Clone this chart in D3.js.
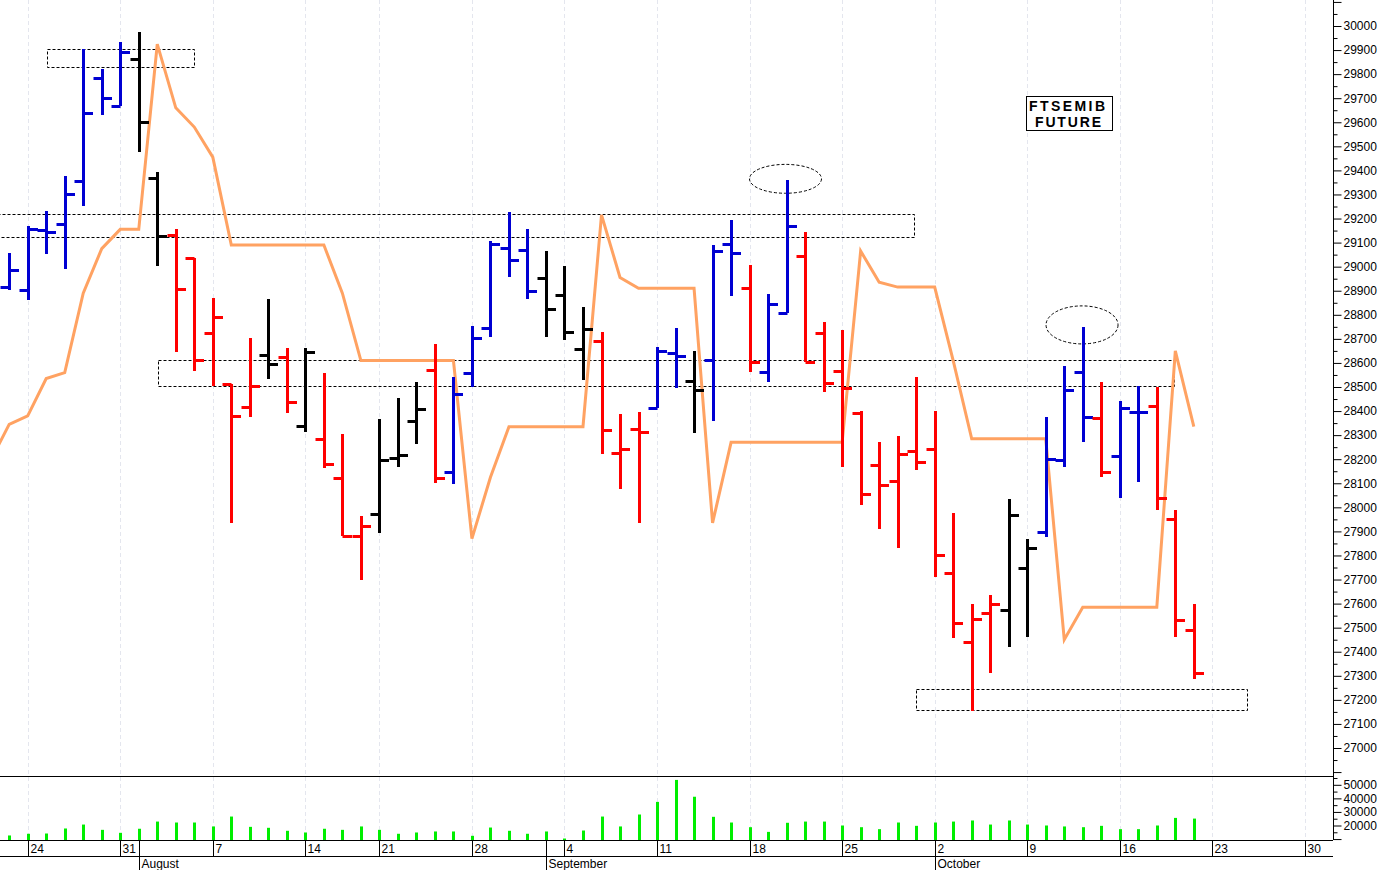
<!DOCTYPE html>
<html>
<head>
<meta charset="utf-8">
<script src="https://cdn.jsdelivr.net/npm/d3@7"></script>
<style>
  body { margin: 0; background: #fff; }
  svg { display: block; }
  text { font-family: "Liberation Sans", Arial, sans-serif; }
</style>
</head>
<body>
<svg id="chart" width="1380" height="870"></svg>
<script>
// ---------------- DATA ----------------
// trading days (2017), 15 Aug is a holiday
const days = [
  "2017-07-20","2017-07-21",
  "2017-07-24","2017-07-25","2017-07-26","2017-07-27","2017-07-28",
  "2017-07-31","2017-08-01","2017-08-02","2017-08-03","2017-08-04",
  "2017-08-07","2017-08-08","2017-08-09","2017-08-10","2017-08-11",
  "2017-08-14","2017-08-16","2017-08-17","2017-08-18",
  "2017-08-21","2017-08-22","2017-08-23","2017-08-24","2017-08-25",
  "2017-08-28","2017-08-29","2017-08-30","2017-08-31","2017-09-01",
  "2017-09-04","2017-09-05","2017-09-06","2017-09-07","2017-09-08",
  "2017-09-11","2017-09-12","2017-09-13","2017-09-14","2017-09-15",
  "2017-09-18","2017-09-19","2017-09-20","2017-09-21","2017-09-22",
  "2017-09-25","2017-09-26","2017-09-27","2017-09-28","2017-09-29",
  "2017-10-02","2017-10-03","2017-10-04","2017-10-05","2017-10-06",
  "2017-10-09","2017-10-10","2017-10-11","2017-10-12","2017-10-13",
  "2017-10-16","2017-10-17","2017-10-18","2017-10-19","2017-10-20",
  "2017-10-23","2017-10-24","2017-10-25","2017-10-26","2017-10-27",
  "2017-10-30","2017-10-31"
];

const openP = [null,
  28917, 28904, 29154, 29179, 29354, 29783, 29667, 29862, 29367, 29133,
  29037, 28725, 28512, 28417, 28633, 28625, 28337, 28283, 28121, 27879,
  27971, 28204, 28358, 28571, 28146, 28558, 28746, 29079, 29071, 28954,
  28883, 28658, 28692, 28225, 28325, 28412, 28642, 28525, 28612, 29096,
  28912, 28562, 28808, 29046, 28725, 28567, 28392, 28175, 28108, 28233,
  28242, 27729, 27442, 27562, 27575, 27750, 27896, 28196, 28562, 28371,
  28212, 28396, 28421, 27950, 27492];
const highP = [null,
  29058, 29167, 29233, 29375, 29904, 29821, 29933, 29975, 29392, 29158,
  29037, 28871, 28512, 28704, 28867, 28662, 28662, 28558, 28304, 27962,
  28367, 28454, 28521, 28679, 28542, 28754, 29108, 29229, 29158, 29067,
  29004, 28833, 28729, 28387, 28396, 28667, 28746, 28650, 29092, 29192,
  29008, 28887, 29362, 29142, 28771, 28737, 28400, 28271, 28296, 28542,
  28400, 27975, 27600, 27637, 28033, 27867, 28375, 28587, 28750, 28521,
  28442, 28504, 28500, 27987, 27600];
const lowP = [null,
  28904, 28862, 29054, 28992, 29254, 29629, 29667, 29475, 29004, 28646,
  28567, 28504, 27933, 28375, 28533, 28392, 28312, 28162, 27879, 27696,
  27892, 28167, 28262, 28100, 28096, 28500, 28708, 28958, 28867, 28708,
  28696, 28529, 28221, 28075, 27933, 28412, 28496, 28308, 28358, 28879,
  28562, 28521, 28808, 28604, 28479, 28167, 28008, 27908, 27833, 28154,
  27712, 27458, 27154, 27312, 27421, 27462, 27875, 28167, 28271, 28125,
  28037, 28104, 27987, 27462, 27287];
const closeP = [null,
  28987, 29158, 29146, 29300, 29637, 29700, 29892, 29600, 29129, 28908,
  28612, 28792, 28379, 28504, 28596, 28437, 28646, 28179, 27879, 27921,
  28196, 28217, 28408, 28121, 28471, 28704, 29096, 29029, 28900, 28825,
  28729, 28742, 28321, 28242, 28312, 28650, 28629, 28487, 29067, 29058,
  28604, 28846, 29167, 28604, 28517, 28496, 28054, 28092, 28221, 28187,
  27804, 27521, 27537, 27600, 27967, 27829, 28200, 28487, 28375, 28146,
  28412, 28396, 28037, 27533, 27312];
const volume = [null,
  12650, 13900, 14100, 17800, 20700, 16800, 14600, 17600, 22900, 22200,
  22200, 19300, 26600, 19000, 18300, 16100, 14850, 17600, 16800, 19300,
  16800, 13900, 14850, 15600, 15600, 12400, 18500, 16100, 13900, 15600,
  10400, 16300, 26600, 19300, 28100, 37400, 53600, 41200, 26400, 22200,
  18750, 15300, 22000, 22900, 22900, 20000, 18750, 17300, 22200, 19750,
  22200, 22900, 23700, 20700, 23700, 20700, 20000, 19300, 18750, 19750,
  17300, 17300, 20000, 25600, 25100];
// trend class of each bar: U = up (blue), D = down (red), N = neutral (black)
const trend = [null,
  "U","U","U","U","U","U","U","N","N","D",
  "D","D","D","D","N","D","N","D","D","D",
  "N","N","N","D","U","U","U","U","U","N",
  "N","N","D","D","D","U","U","N","U","U",
  "D","U","U","D","D","D","D","D","D","D",
  "D","D","D","D","N","N","U","U","U","D",
  "U","U","D","D","D"];
// orange stop line
const stopLine = [
  28195, 28345, 28380, 28535, 28560, 28890, 29075, 29155, 29155, 29925,
  29660, 29580, 29455, 29090, 29090, 29090, 29090, 29090, 29090, 28890,
  28610, 28610, 28610, 28610, 28610, 28610, 27870, 28125, 28335, 28335,
  28335, 28335, 28335, 29215, 28955, 28910, 28910, 28910, 28910, 27935,
  28270, 28270, 28270, 28270, 28270, 28270, 28270, 29065, 28935, 28915,
  28915, 28915, 28610, 28285, 28285, 28285, 28285, 28285, 27450, 27585,
  27585, 27585, 27585, 27585, 28650, 28335];

// axis ticks
const weekTickDays = ["2017-07-24","2017-07-31","2017-08-07","2017-08-14","2017-08-21","2017-08-28",
  "2017-09-04","2017-09-11","2017-09-18","2017-09-25","2017-10-02","2017-10-09","2017-10-16",
  "2017-10-23","2017-10-30"];
const weekTickLabels = ["24","31","7","14","21","28","4","11","18","25","2","9","16","23","30"];
const monthDays = ["2017-08-01","2017-09-01","2017-10-02"];
const monthLabels = ["August","September","October"];
const priceTicks = d3.range(27000, 30001, 100);
const volumeTicks = [20000, 30000, 40000, 50000];

// annotations (day index / price)
const zoneBoxes = [
  {i0: 3.03, i1: 10.95, p0: 29905, p1: 29830},
  {i0: -1, i1: 49.88, p0: 29220, p1: 29125},
  {i0: 9.02, i1: 63.9, p0: 28611, p1: 28502},
  {i0: 49.97, i1: 67.87, p0: 27245, p1: 27157}
];
const rings = [
  {i: 42.94, p: 29365, rx: 1.945, ry: 60},
  {i: 58.96, p: 28758, rx: 1.945, ry: 79}
];
const titleLines = ["FTSEMIB", "FUTURE"];

// ---------------- CHART ----------------
const W = 1380, H = 870;
const plotRight = 1333, priceBottom = 776, volBottom = 840, dayRow = 856;
const svg = d3.select("#chart");
svg.append("rect").attr("width", W).attr("height", H).attr("fill", "#fff");

const x = d3.scalePoint().domain(days).range([-9.32, -9.32 + 18.51 * (days.length - 1)]);
const step = x.step();
const xi = i => x(days[0]) + i * step;
const y = d3.scaleLinear().domain([27000, 30000]).range([748, 26]);
const yv = d3.scaleLinear().domain([20000, 50000]).range([825.5, 784.8]);
const color = d3.scaleOrdinal().domain(["U","D","N"]).range(["#0000d2","#ff0000","#000000"]);
const px = v => Math.round(v) + 0.5;

const defs = svg.append("defs");
defs.append("clipPath").attr("id", "clipP").append("rect")
  .attr("x", 0).attr("y", 0).attr("width", plotRight).attr("height", priceBottom);
defs.append("clipPath").attr("id", "clipV").append("rect")
  .attr("x", 0).attr("y", priceBottom).attr("width", plotRight).attr("height", volBottom - priceBottom);

// grid
svg.append("g").selectAll("line").data(weekTickDays).join("line")
  .attr("x1", d => px(x(d))).attr("x2", d => px(x(d)))
  .attr("y1", 0).attr("y2", volBottom)
  .attr("stroke", "#e4e6ee").attr("stroke-width", 1).attr("stroke-dasharray", "4,3");

const gP = svg.append("g").attr("clip-path", "url(#clipP)");

// zone boxes
gP.append("g").selectAll("rect").data(zoneBoxes).join("rect")
  .attr("x", d => px(xi(d.i0))).attr("y", d => px(y(d.p0)))
  .attr("width", d => Math.round(xi(d.i1) - xi(d.i0)))
  .attr("height", d => Math.round(y(d.p1) - y(d.p0)))
  .attr("fill", "none").attr("stroke", "#000").attr("stroke-width", 1)
  .attr("stroke-dasharray", "3,2");

gP.append("g").selectAll("ellipse").data(rings).join("ellipse")
  .attr("cx", d => xi(d.i)).attr("cy", d => y(d.p))
  .attr("rx", d => d.rx * step).attr("ry", d => y(d.p - d.ry) - y(d.p))
  .attr("fill", "none").attr("stroke", "#000").attr("stroke-width", 1)
  .attr("stroke-dasharray", "3,2");

// stop line
const line = d3.line().x((d, i) => x(days[i])).y(d => y(d));
gP.append("path").datum(stopLine).attr("d", line)
  .attr("fill", "none").attr("stroke", "#ffa262").attr("stroke-width", 3);

// OHLC bars
const bars = days.slice(0, openP.length).map((d, i) => ({
  d, o: openP[i], h: highP[i], l: lowP[i], c: closeP[i], t: trend[i]
})).filter(b => b.o != null);
const gB = gP.append("g");
bars.forEach(b => {
  const cx = px(x(b.d));
  const col = color(b.t);
  gB.append("line").attr("x1", cx).attr("x2", cx)
    .attr("y1", Math.round(y(b.h))).attr("y2", Math.round(y(b.l)))
    .attr("stroke", col).attr("stroke-width", 3);
  gB.append("line").attr("x1", cx - 9).attr("x2", cx)
    .attr("y1", px(y(b.o))).attr("y2", px(y(b.o)))
    .attr("stroke", col).attr("stroke-width", 3);
  gB.append("line").attr("x1", cx).attr("x2", cx + 9.5)
    .attr("y1", px(y(b.c))).attr("y2", px(y(b.c)))
    .attr("stroke", col).attr("stroke-width", 3);
});

// volume
const vols = days.slice(0, volume.length).map((d, i) => ({d, v: volume[i]})).filter(v => v.v != null);
svg.append("g").attr("clip-path", "url(#clipV)").selectAll("rect").data(vols).join("rect")
  .attr("x", d => Math.round(x(d.d)) - 1).attr("width", 3)
  .attr("y", d => yv(d.v)).attr("height", d => volBottom - yv(d.v))
  .attr("fill", "#00ee00");

// frame lines
const frame = svg.append("g").attr("stroke", "#000").attr("stroke-width", 1);
frame.append("line").attr("x1", 0).attr("x2", plotRight).attr("y1", priceBottom + 0.5).attr("y2", priceBottom + 0.5);
frame.append("line").attr("x1", 0).attr("x2", plotRight).attr("y1", volBottom + 0.5).attr("y2", volBottom + 0.5);
frame.append("line").attr("x1", 0).attr("x2", plotRight).attr("y1", dayRow + 0.5).attr("y2", dayRow + 0.5);
frame.append("line").attr("x1", plotRight + 0.5).attr("x2", plotRight + 0.5).attr("y1", 0).attr("y2", volBottom);

// right axes
function styleAxis(g) {
  g.select(".domain").remove();
  g.selectAll("text").attr("font-family", '"Liberation Sans", Arial, sans-serif')
    .attr("font-size", 12).attr("fill", "#000");
  g.selectAll("line").attr("stroke", "#000");
}
svg.append("g").attr("transform", `translate(${plotRight + 0.5},0)`)
  .call(d3.axisRight(y).tickValues(priceTicks).tickSize(8).tickPadding(2).tickFormat(d3.format("d")))
  .call(styleAxis);
svg.append("g").attr("transform", `translate(${plotRight + 0.5},0)`)
  .call(d3.axisRight(y).tickValues([26900, 30100]).tickSize(8).tickFormat(""))
  .call(styleAxis);
svg.append("g").attr("transform", `translate(${plotRight + 0.5},0)`)
  .call(d3.axisRight(y).tickValues(d3.range(26950, 30101, 100)).tickSize(4).tickFormat(""))
  .call(styleAxis);
svg.append("g").attr("transform", `translate(${plotRight + 0.5},0)`)
  .call(d3.axisRight(yv).tickValues(volumeTicks).tickSize(8).tickPadding(2).tickFormat(d3.format("d")))
  .call(styleAxis);
svg.append("g").attr("transform", `translate(${plotRight + 0.5},0)`)
  .call(d3.axisRight(yv).tickValues([10000]).tickSize(8).tickFormat(""))
  .call(styleAxis);
svg.append("g").attr("transform", `translate(${plotRight + 0.5},0)`)
  .call(d3.axisRight(yv).tickValues([15000, 25000, 35000, 45000, 55000]).tickSize(4).tickFormat(""))
  .call(styleAxis);

// date axis
const gD = svg.append("g");
weekTickDays.forEach((d, k) => {
  const xx = px(x(d));
  gD.append("line").attr("x1", xx).attr("x2", xx).attr("y1", volBottom).attr("y2", dayRow)
    .attr("stroke", "#000");
  gD.append("text").attr("x", xx + 2).attr("y", 853).attr("font-size", 12)
    .attr("fill", "#000").text(weekTickLabels[k]);
});
monthDays.forEach((d, k) => {
  const xx = px(x(d));
  gD.append("line").attr("x1", xx).attr("x2", xx).attr("y1", volBottom).attr("y2", H)
    .attr("stroke", "#000");
  gD.append("text").attr("x", xx + 2).attr("y", 868).attr("font-size", 12)
    .attr("fill", "#000").text(monthLabels[k]);
});

// title box
const gT = svg.append("g");
gT.append("rect").attr("x", 1026.5).attr("y", 96.5).attr("width", 86).attr("height", 34)
  .attr("fill", "#fff").attr("stroke", "#000");
gT.append("text").attr("x", 1067).attr("y", 111).attr("text-anchor", "middle")
  .attr("font-size", 14).attr("font-weight", "bold").attr("textLength", 76)
  .attr("lengthAdjust", "spacing").text(titleLines[0]);
gT.append("text").attr("x", 1068).attr("y", 127).attr("text-anchor", "middle")
  .attr("font-size", 14).attr("font-weight", "bold").attr("textLength", 66)
  .attr("lengthAdjust", "spacing").text(titleLines[1]);
</script>
</body>
</html>
